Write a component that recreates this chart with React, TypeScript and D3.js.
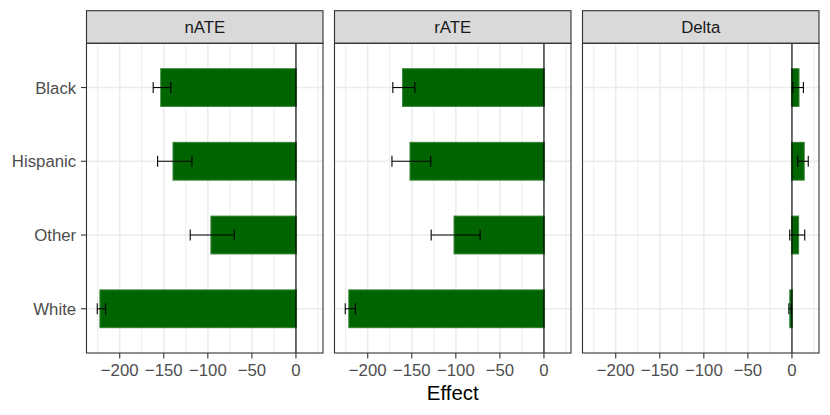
import React from "react";
import * as d3 from "d3";

const categories = ["Black", "Hispanic", "Other", "White"];
const panels = ["nATE", "rATE", "Delta"];

const nateValue = [-153, -139, -96, -222];
const nateLow = [-162, -157, -120, -225.5];
const nateHigh = [-142, -118, -70, -216];

const rateValue = [-160, -151.5, -101.5, -221];
const rateLow = [-171.5, -172.5, -128, -225.5];
const rateHigh = [-146.5, -128.5, -72.5, -214];

const deltaValue = [7.5, 13.5, 7, -2];
const deltaLow = [1, 6.5, -2.5, -3.5];
const deltaHigh = [13, 18.5, 14.5, -0.5];

const xTicks = [-200, -150, -100, -50, 0];
const xMinorTicks = [-225, -175, -125, -75, -25, 25];
const xTitle = "Effect";

const seriesByPanel = [
  { value: nateValue, low: nateLow, high: nateHigh },
  { value: rateValue, low: rateLow, high: rateHigh },
  { value: deltaValue, low: deltaLow, high: deltaHigh },
];

const W = 830;
const H = 415;
const panelLeft = 86.5;
const panelW = 236.5;
const panelGap = 11.5;
const stripTop = 10.7;
const panelTop = 43.3;
const panelBottom = 353;
const FONT = "'Liberation Sans', Arial, Helvetica, sans-serif";
const tickFont = 16.8;

export default function App() {
  const all: number[] = [0];
  seriesByPanel.forEach((s) => {
    all.push(...s.value, ...s.low, ...s.high);
  });
  const [mn, mx] = d3.extent(all) as [number, number];
  const pad = (mx - mn) * 0.05;

  const y = d3
    .scaleLinear()
    .domain([0.4, categories.length + 0.6])
    .range([panelBottom, panelTop]);
  const catPos = (i: number) => y(categories.length - i);
  const unit = Math.abs(y(1) - y(0));
  const barH = unit * 0.5;
  const capH = unit * 0.15;

  return (
    <svg
      width={W}
      height={H}
      style={{ position: "absolute", left: 0, top: 0, background: "#fff" }}
      fontFamily={FONT}
    >
      <rect x={0} y={0} width={W} height={H} fill="#fff" />
      {panels.map((p, pi) => {
        const x0 = panelLeft + pi * (panelW + panelGap);
        const x = d3.scaleLinear().domain([mn - pad, mx + pad]).range([x0, x0 + panelW]);
        const s = seriesByPanel[pi];
        return (
          <g key={p}>
            <rect
              x={x0}
              y={stripTop}
              width={panelW}
              height={panelTop - stripTop}
              fill="#D9D9D9"
              stroke="#333333"
              strokeWidth={1.1}
            />
            <text
              x={x0 + panelW / 2}
              y={(stripTop + panelTop) / 2 + tickFont * 0.36}
              textAnchor="middle"
              fontSize={tickFont}
              fill="#1A1A1A"
            >
              {p}
            </text>
            {xMinorTicks.map((t) => (
              <line
                key={"mn" + t}
                x1={x(t)}
                x2={x(t)}
                y1={panelTop}
                y2={panelBottom}
                stroke="#EBEBEB"
                strokeWidth={0.9}
              />
            ))}
            {xTicks.map((t) => (
              <line
                key={"mj" + t}
                x1={x(t)}
                x2={x(t)}
                y1={panelTop}
                y2={panelBottom}
                stroke="#EBEBEB"
                strokeWidth={1.5}
              />
            ))}
            {categories.map((c, i) => (
              <line
                key={"hg" + c}
                x1={x0}
                x2={x0 + panelW}
                y1={catPos(i)}
                y2={catPos(i)}
                stroke="#EBEBEB"
                strokeWidth={1.5}
              />
            ))}
            {categories.map((c, i) => {
              const v = s.value[i];
              const xa = Math.min(x(0), x(v));
              const w = Math.abs(x(v) - x(0));
              return (
                <rect
                  key={"b" + c}
                  x={xa}
                  y={catPos(i) - barH / 2}
                  width={w}
                  height={barH}
                  fill="#006400"
                  stroke="#006400"
                  strokeOpacity={0.75}
                  strokeWidth={2}
                />
              );
            })}
            <line x1={x(0)} x2={x(0)} y1={panelTop} y2={panelBottom} stroke="#000" strokeWidth={1.1} />
            {categories.map((c, i) => {
              const cy = catPos(i);
              const xl = x(s.low[i]);
              const xh = x(s.high[i]);
              return (
                <g key={"e" + c} stroke="#000" strokeWidth={1.1}>
                  <line x1={xl} x2={xh} y1={cy} y2={cy} />
                  <line x1={xl} x2={xl} y1={cy - capH / 2} y2={cy + capH / 2} />
                  <line x1={xh} x2={xh} y1={cy - capH / 2} y2={cy + capH / 2} />
                </g>
              );
            })}
            <rect
              x={x0}
              y={panelTop}
              width={panelW}
              height={panelBottom - panelTop}
              fill="none"
              stroke="#333333"
              strokeWidth={1.1}
            />
            {xTicks.map((t) => (
              <g key={"xt" + t}>
                <line x1={x(t)} x2={x(t)} y1={panelBottom} y2={panelBottom + 5.5} stroke="#333333" strokeWidth={1.1} />
                <text x={x(t)} y={376} textAnchor="middle" fontSize={tickFont} fill="#4D4D4D">
                  {t < 0 ? "\u2212" + Math.abs(t) : String(t)}
                </text>
              </g>
            ))}
          </g>
        );
      })}
      {categories.map((c, i) => (
        <g key={"yt" + c}>
          <line
            x1={panelLeft - 5.5}
            x2={panelLeft}
            y1={catPos(i)}
            y2={catPos(i)}
            stroke="#333333"
            strokeWidth={1.1}
          />
          <text
            x={panelLeft - 10.3}
            y={catPos(i) + tickFont * 0.36}
            textAnchor="end"
            fontSize={tickFont}
            fill="#4D4D4D"
          >
            {c}
          </text>
        </g>
      ))}
      <text
        x={panelLeft + (3 * panelW + 2 * panelGap) / 2}
        y={400}
        textAnchor="middle"
        fontSize={20.5}
        fill="#000"
      >
        {xTitle}
      </text>
    </svg>
  );
}
